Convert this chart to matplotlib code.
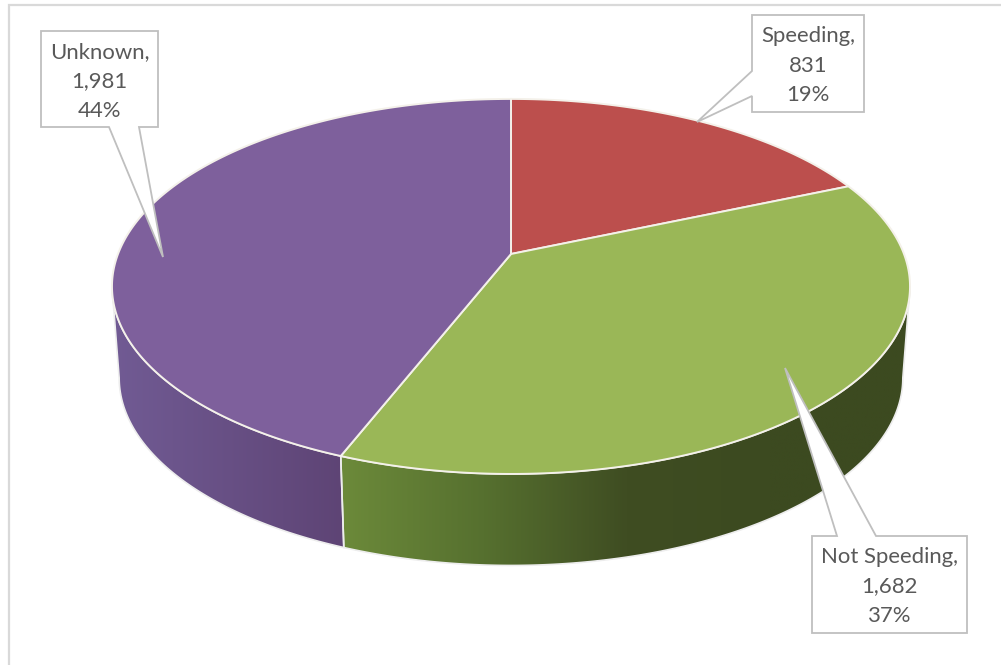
import numpy as np
import matplotlib
matplotlib.use("Agg")
import matplotlib.pyplot as plt
from matplotlib.patches import Polygon, Rectangle
from matplotlib.colors import LinearSegmentedColormap

categories = ["Speeding", "Not Speeding", "Unknown"]
values = [831, 1682, 1981]
value_labels = ["831", "1,682", "1,981"]
percent_labels = ["19%", "37%", "44%"]
top_colors = ["#BC4F4D", "#9AB757", "#7E609C"]
side_stops = {
    "Speeding": ["#7d3331", "#7d3331"],
    "Not Speeding": ["#6C8A3A", "#56702F", "#3F4D22", "#3C4A20", "#3C4A20"],
    "Unknown": ["#715B94", "#5E4475"],
}

# projection of the pie plane
W, H = 1001, 665
CX, CY = 511, 254
R, B, K = 393.0, 181.9, 0.173
DEPTH_SCALE, DEPTH = 0.982, 91.5
# silhouette angles where the projected rim has its widest point
SIL = np.arcsin(K)


def project(theta):
    x, y = np.sin(theta), np.cos(theta)
    d = 1 + K * y
    return CX + R * x / d, CY - B * y / d


def lower(px, py):
    return CX + DEPTH_SCALE * (px - CX), py + DEPTH


fig = plt.figure(figsize=(W / 100, H / 100), dpi=100)
ax = fig.add_axes([0, 0, 1, 1])
ax.set_xlim(0, W)
ax.set_ylim(H, 0)
ax.axis("off")

# chart frame runs off the right and bottom of the picture
ax.add_patch(Rectangle((9, 5), W + 40, H + 40, fc="white", ec="#D9D9D9", lw=1.6, zorder=0))

total = sum(values)
edges = np.concatenate([[0], np.cumsum(values)]) / total * 2 * np.pi

# sides: only the part of the rim facing the viewer
z = 1
for name, a0, a1 in zip(categories, edges[:-1], edges[1:]):
    lo, hi = max(a0, np.pi / 2 + SIL), min(a1, 3 * np.pi / 2 - SIL)
    if hi <= lo:
        continue
    t = np.linspace(lo, hi, 200)
    px, py = project(t)
    qx, qy = lower(px, py)
    poly = np.column_stack([np.r_[px, qx[::-1]], np.r_[py, qy[::-1]]])
    ax.add_patch(Polygon(poly, closed=True, fc="none", ec="#EDEDED", lw=1.2, zorder=z + 1))
    cmap = LinearSegmentedColormap.from_list(name, side_stops[name])
    xmin, xmax = poly[:, 0].min(), poly[:, 0].max()
    grad = np.linspace(0, 1, 256)[None, :]
    im = ax.imshow(grad, cmap=cmap, extent=[xmin, xmax, poly[:, 1].max(), poly[:, 1].min()],
                   aspect="auto", zorder=z, interpolation="bilinear")
    im.set_clip_path(Polygon(poly, closed=True, transform=ax.transData))
ax.set_xlim(0, W)
ax.set_ylim(H, 0)

# top faces
for name, col, a0, a1 in zip(categories, top_colors, edges[:-1], edges[1:]):
    t = np.linspace(a0, a1, 300)
    px, py = project(t)
    poly = np.column_stack([np.r_[CX, px], np.r_[CY, py]])
    ax.add_patch(Polygon(poly, closed=True, fc=col, ec="#F4F1EA", lw=1.4, joinstyle="round", zorder=3))

# callouts: box (x0, y0, x1, y1), pointer base a, tip, pointer base b
callouts = {
    "Speeding": ((752, 15, 864, 112), (752, 71), (697, 122), (752, 96)),
    "Not Speeding": ((812, 536, 967, 633), (837, 536), (785, 368), (876, 536)),
    "Unknown": ((41, 31, 158, 127), (109, 127), (163, 257), (139, 127)),
}
for i, name in enumerate(categories):
    (x0, y0, x1, y1), a, tip, b = callouts[name]
    if name == "Speeding":
        pts = [(x0, y0), (x1, y0), (x1, y1), (x0, y1), b, tip, a]
    elif name == "Not Speeding":
        pts = [(x0, y0), a, tip, b, (x1, y0), (x1, y1), (x0, y1)]
    else:
        pts = [(x0, y0), (x1, y0), (x1, y1), b, tip, a, (x0, y1)]
    ax.add_patch(Polygon(pts, closed=True, fc="white", ec="#BFBFBF", lw=1.3, joinstyle="miter", zorder=5))
    cx = (x0 + x1) / 2
    lines = [f"{name},", value_labels[i], percent_labels[i]]
    for j, s in enumerate(lines):
        ax.text(cx, y0 + 21 + 29.5 * j, s, ha="center", va="center", fontsize=15.9,
                family="Lato", color="#595959", zorder=6)

fig.savefig("out.png", dpi=100, facecolor="white")
